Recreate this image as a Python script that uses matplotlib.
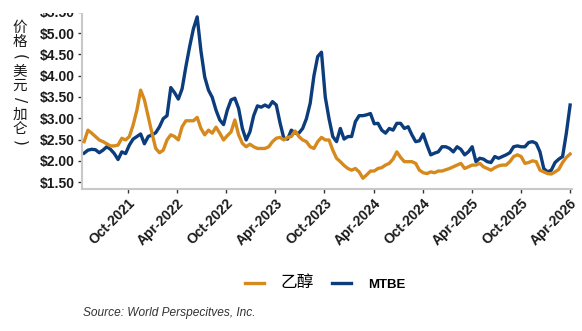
import pandas as pd
import matplotlib.pyplot as plt
import matplotlib.dates as mdates
from matplotlib.patches import Rectangle

# 双周价格（美元/加仑），读自原图
dates = pd.date_range(end="2026-04-01", periods=130, freq="14D")

mtbe = [
    2.18, 2.25, 2.27, 2.26, 2.19, 2.25, 2.33, 2.27, 2.17, 2.03,
    2.21, 2.17, 2.37, 2.51, 2.57, 2.63, 2.40, 2.57, 2.61, 2.66,
    2.80, 2.99, 3.06, 3.72, 3.60, 3.45, 3.69, 4.21, 4.68, 5.10,
    5.38, 4.58, 3.97, 3.66, 3.49, 3.19, 2.96, 2.85, 3.19, 3.43,
    3.47, 3.23, 2.76, 2.49, 2.68, 3.06, 3.29, 3.26, 3.31, 3.26,
    3.39, 3.31, 2.89, 2.53, 2.51, 2.72, 2.65, 2.65, 2.76, 2.99,
    3.35, 4.00, 4.45, 4.55, 3.50, 2.99, 2.57, 2.45, 2.76, 2.51,
    2.57, 2.57, 2.92, 3.06, 3.06, 3.08, 3.11, 2.87, 2.88, 2.72,
    2.65, 2.76, 2.72, 2.88, 2.88, 2.76, 2.80, 2.61, 2.45, 2.47,
    2.63, 2.37, 2.14, 2.18, 2.21, 2.33, 2.33, 2.29, 2.21, 2.33,
    2.27, 2.14, 2.21, 2.33, 1.98, 2.06, 2.04, 1.98, 1.96, 2.10,
    2.06, 2.10, 2.14, 2.19, 2.33, 2.35, 2.33, 2.33, 2.43, 2.45,
    2.41, 2.21, 1.82, 1.74, 1.78, 1.96, 2.04, 2.10, 2.65, 3.31,
]

ethanol = [
    2.45, 2.72, 2.65, 2.57, 2.49, 2.45, 2.40, 2.35, 2.35, 2.37,
    2.53, 2.49, 2.57, 2.84, 3.19, 3.66, 3.43, 3.04, 2.65, 2.29,
    2.19, 2.25, 2.49, 2.61, 2.57, 2.49, 2.80, 2.94, 2.94, 2.94,
    3.02, 2.76, 2.61, 2.72, 2.65, 2.79, 2.65, 2.49, 2.59, 2.68,
    2.96, 2.61, 2.41, 2.33, 2.39, 2.33, 2.29, 2.29, 2.29, 2.33,
    2.45, 2.53, 2.55, 2.49, 2.55, 2.57, 2.70, 2.57, 2.49, 2.45,
    2.33, 2.29, 2.45, 2.55, 2.49, 2.49, 2.25, 2.06, 1.98, 1.89,
    1.82, 1.78, 1.82, 1.74, 1.59, 1.67, 1.76, 1.76, 1.82, 1.84,
    1.90, 1.94, 2.04, 2.21, 2.08, 1.98, 1.98, 1.98, 1.94, 1.78,
    1.72, 1.70, 1.74, 1.72, 1.76, 1.76, 1.79, 1.82, 1.86, 1.90,
    1.94, 1.82, 1.86, 1.90, 1.90, 1.94, 1.86, 1.82, 1.78, 1.84,
    1.88, 1.90, 1.90, 1.98, 2.10, 2.14, 2.10, 1.94, 1.96, 2.00,
    1.98, 1.78, 1.74, 1.70, 1.69, 1.74, 1.80, 1.96, 2.08, 2.16,
]

y_ticks = [1.5, 2.0, 2.5, 3.0, 3.5, 4.0, 4.5, 5.0, 5.5]
ylabel_chars = ["价", "格", "(", "美", "元", "/", "加", "仑", ")"]

orange = "#D68A1E"
blue = "#0B3C7C"

plt.rcParams["font.family"] = ["Liberation Sans", "Noto Sans CJK SC", "DejaVu Sans"]

fig = plt.figure(figsize=(5.82, 3.31), dpi=100)
ax = fig.add_axes([82 / 582, 1 - 189 / 331, 490 / 582, 180 / 331])

ax.plot(dates, mtbe, color=blue, lw=2.4, label="MTBE", zorder=2)
ax.plot(dates, ethanol, color=orange, lw=2.4, label="乙醇", zorder=3)

ax.set_ylim(1.338, 5.565)
ax.set_xlim(pd.Timestamp("2021-04-13"), pd.Timestamp("2026-04-08"))
ax.set_yticks(y_ticks)
ax.set_yticklabels([f"${v:.2f}" for v in y_ticks])

ax.xaxis.set_major_locator(mdates.MonthLocator(bymonth=[4, 10]))
ax.xaxis.set_major_formatter(mdates.DateFormatter("%b-%Y"))

for s in ["top", "right"]:
    ax.spines[s].set_visible(False)
for s in ["left", "bottom"]:
    ax.spines[s].set_color("#C8C8C8")
    ax.spines[s].set_linewidth(1.5)

ax.tick_params(axis="both", length=3, width=1, color="#333333", pad=2,
               labelsize=10, labelcolor="#1a1a1a")
for lab in ax.get_yticklabels():
    lab.set_fontweight("bold")
for lab in ax.get_xticklabels():
    lab.set_fontweight("bold")
    lab.set_rotation(45)
    lab.set_ha("right")
    lab.set_va("top")
    lab.set_rotation_mode("anchor")

# 竖排纵轴标题，标点旋转
rot = {"(": -90, ")": -90, "/": -90}
for i, ch in enumerate(ylabel_chars):
    if ch in rot:
        fam = ["DejaVu Sans"]
        size = 11
    else:
        fam = ["Noto Sans CJK SC", "DejaVu Sans"]
        size = 10.5
    fig.text(20 / 582, 1 - (28 + i * 14.4) / 331, ch, ha="center", va="center",
             fontsize=size, rotation=rot.get(ch, 0), family=fam, color="#1a1a1a")

# 图例：乙醇在前
h, l = ax.get_legend_handles_labels()
leg = fig.legend(h[::-1], l[::-1], loc="center", bbox_to_anchor=(325 / 582, 1 - 283 / 331),
                 ncol=2, frameon=False, handlelength=1.4, handletextpad=1.2,
                 columnspacing=1.3)
leg.get_texts()[0].set_fontsize(12)
leg.get_texts()[0].set_family(["Noto Sans CJK SC", "DejaVu Sans"])
leg.get_texts()[1].set_fontsize(9.5)
leg.get_texts()[1].set_fontweight("bold")

fig.text(83 / 582, 1 - 313 / 331, "Source: World Perspecitves, Inc.", fontsize=8.6,
         style="italic", color="#333333", va="center", ha="left")

# 原图顶部被裁切
fig.add_artist(Rectangle((0, 1 - 12.5 / 331), 1, 1, transform=fig.transFigure,
                         facecolor="white", edgecolor="none", zorder=10))

fig.savefig("out.png", dpi=100)
